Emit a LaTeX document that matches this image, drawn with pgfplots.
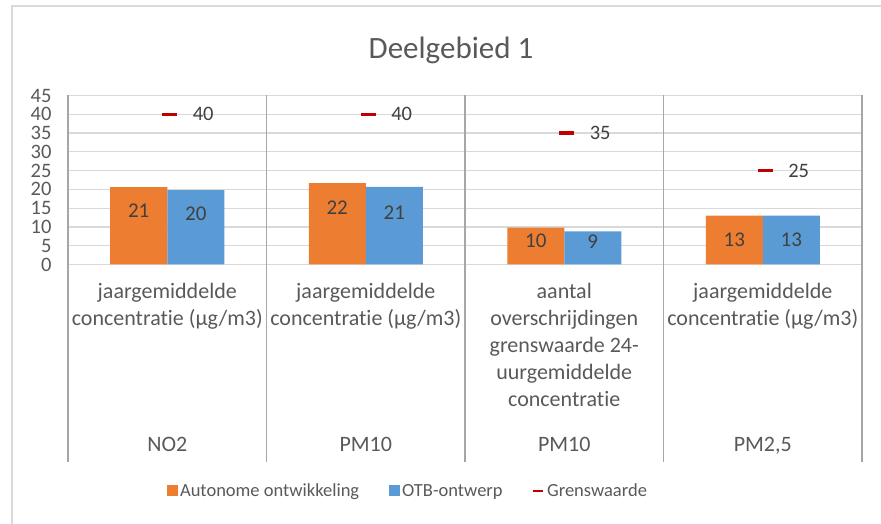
\documentclass[border=0pt]{standalone}
\usepackage{fontspec}
\setmainfont{Carlito}[Ligatures={NoCommon,NoContextual,NoRequired}, Contextuals=NoAlternate]
\usepackage{pgfplots}
\pgfplotsset{compat=1.18}
\definecolor{cOrange}{HTML}{ED7D31}
\definecolor{cBlue}{HTML}{5B9BD5}
\definecolor{cRed}{HTML}{C00000}
\definecolor{cText}{HTML}{595959}
\definecolor{cLabel}{HTML}{404040}
\definecolor{cGrid}{HTML}{D9D9D9}
\definecolor{cSep}{HTML}{A6A6A6}
\begin{document}
\begin{tikzpicture}
\useasboundingbox (0pt,0pt) rectangle (881pt,524pt);
\draw[cGrid, line width=1.5pt] (12pt,-20pt) rectangle (900pt,518pt);
\node[anchor=base, font=\fontsize{31}{36}\selectfont, text=cText, inner sep=0pt] at (451pt,465pt) {Deelgebied 1};
\begin{axis}[
  at={(68pt,259.5pt)}, anchor=south west,
  scale only axis, width=794pt, height=169pt,
  xmin=-0.5, xmax=3.5, ymin=0, ymax=45,
  ytick={0,5,...,45}, xtick=\empty,
  ymajorgrids, grid style={cGrid, line width=1.3pt},
  axis line style={draw=none}, major tick length=0pt,
  clip=false,
  /pgf/number format/assume math mode=true,
  yticklabel style={font=\fontsize{20.5}{24}\selectfont, text=cText, xshift=-13pt},
  legend columns=3,
  legend style={at={(0.4282,-1.340)}, anchor=center, draw=none, fill=none,
    font=\fontsize{18.5}{22}\selectfont, text=cText,
    nodes={inner xsep=2.5pt},
    /tikz/every even column/.append style={column sep=27pt}},
]
% separators
\pgfplotsinvokeforeach{-0.5,0.5,1.5,2.5,3.5}{
  \draw[cSep, line width=1.6pt] (axis cs:#1,45) -- ([yshift=-197.5pt]axis cs:#1,0);
}
\addplot[ybar, bar width=57pt, bar shift=-28.5pt, fill=cOrange, draw=none,
  legend image code/.code={\fill[cOrange] (0pt,-5.5pt) rectangle (11pt,5.5pt);}]
  coordinates {(0,20.6) (1,21.7) (2,9.8) (3,13.0)};
\addlegendentry{Autonome ontwikkeling}
\addplot[ybar, bar width=57pt, bar shift=28.5pt, fill=cBlue, draw=none,
  legend image code/.code={\fill[cBlue] (0pt,-5.5pt) rectangle (11pt,5.5pt);}]
  coordinates {(0,19.8) (1,20.7) (2,8.8) (3,13.0)};
\addlegendentry{OTB-ontwerp}
\addplot[only marks, mark=-, mark size=7.5pt,
  mark options={line width=3.5pt, draw=cRed, xshift=2.5pt},
  point meta=explicit symbolic, nodes near coords,
  nodes near coords align={anchor=west},
  every node near coord/.append style={xshift=18pt, font=\fontsize{20.5}{24}\selectfont, text=cLabel},
  legend image code/.code={\draw[cRed, line width=2.5pt] (0pt,0pt) -- (10pt,0pt);}]
  coordinates {(0,40)[40] (1,40)[40] (2,35)[35] (3,25)[25]};
\addlegendentry{Grenswaarde}
% data labels
\addplot[forget plot, only marks, mark=*, mark size=0.01pt, mark options={opacity=0},
  point meta=explicit symbolic, nodes near coords,
  nodes near coords align={anchor=center},
  every node near coord/.append style={font=\fontsize{21}{24}\selectfont, text=cLabel, opacity=1, text opacity=1}]
  table[meta=lab] {
x y lab
-0.1436 14.2 21
0.1436 13.4 20
0.8564 15.0 22
1.1436 13.9 21
1.8564 6.2 10
2.1436 6.2 9
2.8564 6.7 13
3.1436 6.7 13
};
% category labels
\begin{scope}[every node/.style={font=\fontsize{22}{27}\selectfont, text=cText, align=center, inner sep=0pt}]
\node[anchor=north] at ([yshift=-18.5pt]axis cs:0,0) {jaargemiddelde\\concentratie (µg/m3)};
\node[anchor=north] at ([yshift=-18.5pt]axis cs:1,0) {jaargemiddelde\\concentratie (µg/m3)};
\node[anchor=north] at ([yshift=-18.5pt]axis cs:2,0) {aantal\\overschrijdingen\\grenswaarde 24-\\uurgemiddelde\\concentratie};
\node[anchor=north] at ([yshift=-18.5pt]axis cs:3,0) {jaargemiddelde\\concentratie (µg/m3)};
\node[anchor=base] at ([yshift=-186.5pt]axis cs:0,0) {NO2};
\node[anchor=base] at ([yshift=-186.5pt]axis cs:1,0) {PM10};
\node[anchor=base] at ([yshift=-186.5pt]axis cs:2,0) {PM10};
\node[anchor=base] at ([yshift=-186.5pt]axis cs:3,0) {PM2,5};
\end{scope}
\end{axis}
\end{tikzpicture}
\end{document}
